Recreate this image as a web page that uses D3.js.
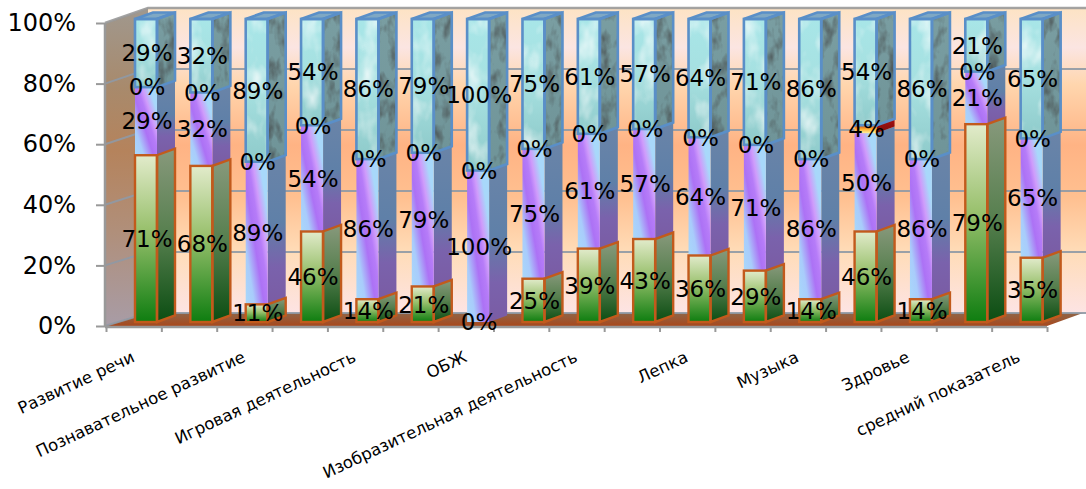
<!DOCTYPE html>
<html><head><meta charset="utf-8">
<script src="https://cdn.jsdelivr.net/npm/d3@7/dist/d3.min.js"></script>
<style>html,body{margin:0;padding:0;background:#fff}svg{display:block}text{font-family:"DejaVu Sans",sans-serif;fill:#000}</style>
</head><body><svg id="c" width="1086" height="489"></svg>
<script>
const tickLabels = ["Развитие речи","Познавательное развитие","Игровая деятельность","ОБЖ","Изобразительная деятельность","Лепка","Музыка","Здровье","средний показатель"];
const seriesGreen  = [71,68,11,46,14,21,0,25,39,43,36,29,14,46,14,79,35];
const seriesPurple = [29,32,89,54,86,79,100,75,61,57,64,71,86,50,86,21,65];
const seriesRed    = [0,0,0,0,0,0,0,0,0,0,0,0,0,4,0,0,0];
const seriesIce    = [29,32,89,54,86,79,100,75,61,57,64,71,86,54,86,21,65];
const valueTicks = [0,.2,.4,.6,.8,1];

const svg = d3.select("#c");
const defs = svg.append("defs");
function grad(id, stops, x2=0, y2=1, x1=0, y1=0){
  const g = defs.append("linearGradient").attr("id",id).attr("x1",x1).attr("y1",y1).attr("x2",x2).attr("y2",y2);
  stops.forEach(([o,c])=>g.append("stop").attr("offset",o).attr("stop-color",c));
}
grad("wall",[[0,"#fde3c4"],[.13,"#fbe5e2"],[.25,"#ffd6ae"],[.45,"#ffb384"],[.62,"#ffc090"],[.8,"#ffdcb8"],[1,"#fde4e4"]]);
grad("wallL",[[0,"#a0988e"],[.25,"#a88a6c"],[.45,"#b5835c"],[.7,"#b08f7a"],[1,"#a89ca6"]]);
grad("floor",[[0,"#8f6548"],[1,"#a8481c"]]);
grad("gF",[[0,"#e2ebcb"],[.45,"#98c06c"],[1,"#0e7d10"]]);
grad("gS",[[0,"#88997c"],[.5,"#567f4e"],[1,"#0b4d12"]]);
grad("pF",[[0,"#a8d8fa"],[.2,"#a9ccfb"],[.42,"#ac72f5"],[.56,"#b67cf8"],[.66,"#cf9cfb"],[.82,"#a8d8fa"],[1,"#a8d8fa"]],1,0,0,1);
grad("pS",[[0,"#6a84a8"],[.45,"#5f80a8"],[.75,"#7a62ac"],[1,"#7a5ca4"]]);
grad("rF",[[0,"#c8481a"],[.5,"#ffb030"],[1,"#fff0a0"]]);
grad("rS",[[0,"#a81010"],[1,"#7a0c0c"]]);
grad("iF",[[0,"#a8e6e8"],[.5,"#a6e0e0"],[1,"#8ecaca"]]);
grad("iS",[[0,"#7a9ea2"],[1,"#6f9498"]]);
function ice(id, freq, seed, alpha, shade){
  const f = defs.append("filter").attr("id",id).attr("x",0).attr("y",0).attr("width",1).attr("height",1)
    .attr("color-interpolation-filters","sRGB");
  f.append("feTurbulence").attr("type","fractalNoise").attr("baseFrequency",freq).attr("numOctaves",3).attr("seed",seed).attr("result","n");
  f.append("feColorMatrix").attr("in","n").attr("type","matrix")
    .attr("values",`0 0 0 0 ${shade}  0 0 0 0 ${shade}  0 0 0 0 ${shade}  ${alpha} 0 0 0 ${-alpha*0.45}`).attr("result","w");
  f.append("feComposite").attr("in","w").attr("in2","SourceGraphic").attr("operator","in").attr("result","m");
  f.append("feMerge").call(s=>{s.append("feMergeNode").attr("in","SourceGraphic");s.append("feMergeNode").attr("in","m");});
}
ice("iceF",".05 .03",4,1.6,1);
ice("iceS",".09 .05",9,1.6,.25);

const rows = seriesGreen.map((g,i)=>({i,g,p:seriesPurple[i],r:seriesRed[i],c:seriesIce[i]}));
const stack = d3.stack().keys(["g","p","r","c"]).offset(d3.stackOffsetExpand)(rows);

const n = rows.length;
const xBand = d3.scaleBand().domain(d3.range(n)).range([106,1047]);
const xEdge = d3.scaleLinear().domain([0,n]).range([106,1047]);
const yAxisS = d3.scaleLinear().domain([0,1]).range([326,23]);
const yBack = d3.scaleLinear().domain([0,1]).range([313,8]);
const y = d3.scaleLinear().domain([0,1]).range([322,19]);
const dx = 18, dy = 6.5, barInset = 29, barW = 22;
const backL = 148, backR = 1086;
const poly = pts => pts.map(p=>p.join(",")).join(" ");

svg.append("polygon").attr("points",poly([[backL,yBack(1)],[backR,yBack(1)],[backR,yBack(0)],[backL,yBack(0)]])).attr("fill","url(#wall)");
svg.append("polygon").attr("points",poly([[105,yAxisS(1)],[backL,yBack(1)],[backL,yBack(0)],[105,yAxisS(0)]])).attr("fill","url(#wallL)");
svg.append("polygon").attr("points",poly([[105,yAxisS(0)],[backL,yBack(0)],[backR-3,yBack(0)],[1047,yAxisS(0)]])).attr("fill","url(#floor)");
valueTicks.forEach(t=>{
  svg.append("polyline").attr("fill","none").attr("stroke",t==1?"#999":"#8f99a5").attr("stroke-width",t==1?2.5:2).attr("opacity",.9)
    .attr("points",poly([[105,yAxisS(t)],[backL,yBack(t)],[backR,yBack(t)]]));
});
svg.append("line").attr("x1",105).attr("x2",105).attr("y1",yAxisS(1)).attr("y2",yAxisS(0)).attr("stroke","#999").attr("stroke-width",2.5);
svg.append("line").attr("x1",105).attr("x2",1047).attr("y1",yAxisS(0)+1).attr("y2",yAxisS(0)+1).attr("stroke","#999").attr("stroke-width",2.5);

const ay = svg.append("g").attr("transform","translate(105,0)").call(d3.axisLeft(yAxisS).tickValues(valueTicks).tickFormat(d3.format(".0%")).tickSize(9).tickPadding(20));
ay.select(".domain").remove();
ay.selectAll("line").attr("stroke","#999").attr("stroke-width",2);
ay.selectAll("text").attr("font-size",24).style("font-family",'"DejaVu Sans"');
const ax = svg.append("g").attr("transform","translate(0,327)").call(d3.axisBottom(xEdge).tickValues(d3.range(n+1)).tickFormat("").tickSize(5));
ax.select(".domain").remove();
ax.selectAll("line").attr("stroke","#999").attr("stroke-width",2);
const al = svg.append("g").attr("transform","translate(0,361)").call(d3.axisBottom(xBand).tickValues(d3.range(0,n,2)).tickFormat(i=>tickLabels[i/2]).tickSize(0).tickPadding(0));
al.select(".domain").remove();
al.selectAll("text").attr("font-size",16.5).attr("text-anchor","end").attr("dy",0)
  .attr("transform","translate(2,0) rotate(-25)");

const styles = {
  g:{f:"url(#gF)",s:"url(#gS)",stroke:"#c25a1c",sw:2.4},
  p:{f:"url(#pF)",s:"url(#pS)",stroke:"none",sw:0},
  r:{f:"url(#rF)",s:"url(#rS)",stroke:"none",sw:0},
  c:{f:"url(#iF)",s:"url(#iS)",stroke:"#5a8fc8",sw:2.6,ff:"url(#iceF)",sf:"url(#iceS)"}
};
const order = ["p","r","c","g"];
const byKey = Object.fromEntries(stack.map(s=>[s.key,s]));
rows.forEach(r=>{
  const g = svg.append("g");
  const x0 = xBand(r.i)+barInset, x1 = x0+barW;
  order.forEach(k=>{
    const [a,b] = byKey[k][r.i];
    if(b-a<=0) return;
    const st = styles[k], yb=y(a), yt=y(b);
    const side = g.append("polygon").attr("points",poly([[x1,yb],[x1+dx,yb-dy],[x1+dx,yt-dy],[x1,yt]])).attr("fill",st.s);
    const front = g.append("rect").attr("x",x0).attr("y",yt).attr("width",barW).attr("height",yb-yt).attr("fill",st.f);
    if(st.ff){ front.attr("filter",st.ff); side.attr("filter",st.sf); }
    if(k==="c"){
      g.append("polygon").attr("points",poly([[x0,yt],[x1,yt],[x1+dx,yt-dy],[x0+dx,yt-dy]])).attr("fill","#7fa8c4").attr("stroke",st.stroke).attr("stroke-width",st.sw);
    }
    if(st.sw){
      g.append("polygon").attr("points",poly([[x1,yb],[x1+dx,yb-dy],[x1+dx,yt-dy],[x1,yt]])).attr("fill","none").attr("stroke",st.stroke).attr("stroke-width",st.sw);
      g.append("rect").attr("x",x0).attr("y",yt).attr("width",barW).attr("height",yb-yt).attr("fill","none").attr("stroke",st.stroke).attr("stroke-width",st.sw);
    }
  });
});

const lab = svg.append("g").attr("font-size",23).attr("text-anchor","middle");
stack.forEach(s=>{
  s.forEach((d,i)=>{
    lab.append("text").attr("x",xBand(i)+barInset+barW/2+1).attr("y",y((d[0]+d[1])/2)).attr("dy",".36em").text(rows[i][s.key]+"%");
  });
});
</script></body></html>
